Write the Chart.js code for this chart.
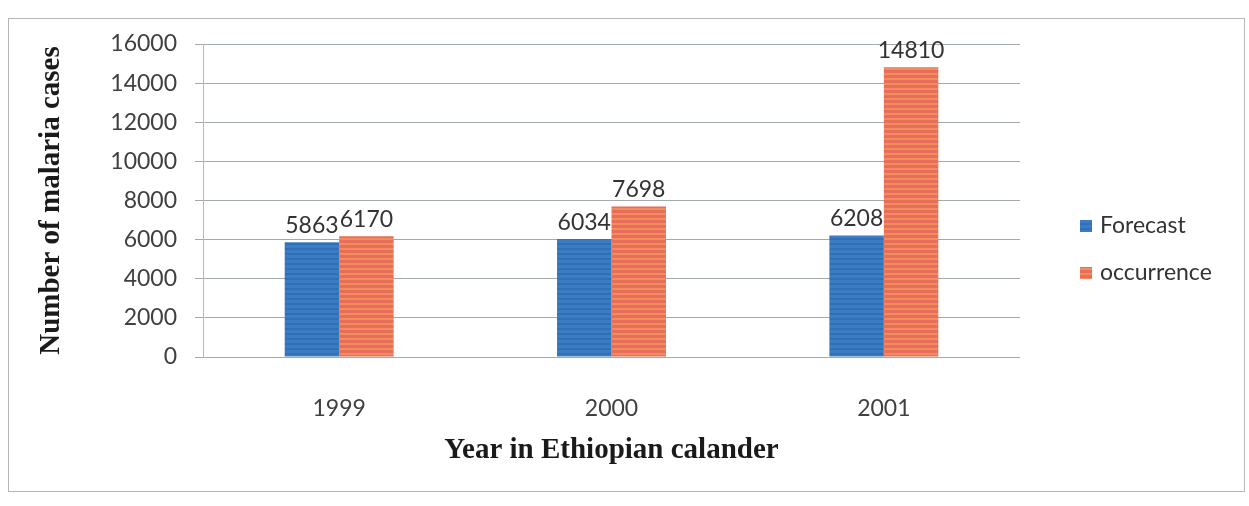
<!DOCTYPE html>
<html>
<head>
<meta charset="utf-8">
<script src="https://cdn.jsdelivr.net/npm/chart.js@4"></script>
<style>
  html, body { margin: 0; padding: 0; background: #fff; }
</style>
</head>
<body>
<canvas id="malariaChart" width="1249" height="506"></canvas>
<script>
const years = ['1999', '2000', '2001'];
const forecast = [5863, 6034, 6208];
const occurrence = [6170, 7698, 14810];
const yTicks = [0, 2000, 4000, 6000, 8000, 10000, 12000, 14000, 16000];

// horizontal banding like a printed bar fill
function stripes(base, band) {
  const c = document.createElement('canvas');
  c.width = 4; c.height = 5;
  const g = c.getContext('2d');
  g.fillStyle = base;
  g.fillRect(0, 0, 4, 5);
  g.fillStyle = band;
  g.fillRect(0, 3, 4, 2);
  return g.createPattern(c, 'repeat');
}

const blueFill = stripes('#3b7cc2', '#3170b6');
const orangeFill = stripes('#e86d5c', '#f08d5a');

const tickFont = { family: 'Lato', size: 23 };
const titleFont = { family: 'Liberation Serif', size: 29, weight: 'bold' };

// outer frame of the chart object
const frame = {
  id: 'frame',
  beforeDraw(chart) {
    const ctx = chart.ctx;
    ctx.save();
    ctx.strokeStyle = '#b4b8b8';
    ctx.lineWidth = 1;
    ctx.strokeRect(8.5, 18.5, 1236, 473);
    ctx.restore();
  }
};

// value printed above each bar
const valueLabels = {
  id: 'valueLabels',
  afterDatasetsDraw(chart) {
    const ctx = chart.ctx;
    ctx.save();
    ctx.font = '23px Lato';
    ctx.fillStyle = '#333';
    ctx.textAlign = 'center';
    ctx.textBaseline = 'bottom';
    chart.data.datasets.forEach((ds, i) => {
      chart.getDatasetMeta(i).data.forEach((bar, j) => {
        ctx.fillText(ds.data[j], bar.x, bar.y - 5);
      });
    });
    ctx.restore();
  }
};

// legend on the right side
const sideLegend = {
  id: 'sideLegend',
  afterDraw(chart) {
    const ctx = chart.ctx;
    const area = chart.chartArea;
    const x = area.right + 60;
    let y = area.bottom - 131;
    ctx.save();
    ctx.font = '23px Lato';
    ctx.textBaseline = 'middle';
    chart.data.datasets.forEach(ds => {
      ctx.fillStyle = ds.backgroundColor;
      ctx.fillRect(x, y - 6, 12, 12);
      ctx.fillStyle = '#333';
      ctx.fillText(ds.label, x + 20, y);
      y += 47;
    });
    ctx.restore();
  }
};

new Chart(document.getElementById('malariaChart'), {
  type: 'bar',
  data: {
    labels: years,
    datasets: [
      { label: 'Forecast', data: forecast, backgroundColor: blueFill },
      { label: 'occurrence', data: occurrence, backgroundColor: orangeFill }
    ]
  },
  options: {
    responsive: false,
    animation: false,
    categoryPercentage: 0.4,
    barPercentage: 1.0,
    layout: { padding: { left: 8, top: 44, right: 229, bottom: 0 } },
    plugins: {
      legend: { display: false },
      tooltip: { enabled: false }
    },
    scales: {
      x: {
        grid: { display: false },
        border: { display: false },
        ticks: { font: tickFont, color: '#404040', padding: 30 },
        title: {
          display: true,
          text: 'Year in Ethiopian calander',
          font: titleFont,
          color: '#1a1a1a',
          padding: { top: 4, bottom: 38 }
        },
        afterFit(scale) { scale.height = 149; }
      },
      y: {
        min: 0,
        max: 16000,
        afterBuildTicks(scale) { scale.ticks = yTicks.map(v => ({ value: v })); },
        grid: { color: '#a2aaaa', tickLength: 8, lineWidth: 1 },
        border: { color: '#b4bcbc' },
        ticks: {
          font: tickFont,
          color: '#404040',
          padding: 18,
          callback: v => String(v)
        },
        title: {
          display: true,
          text: 'Number of malaria cases',
          font: titleFont,
          color: '#1a1a1a',
          padding: { top: 26, bottom: 0 }
        },
        afterFit(scale) { scale.width = 195; }
      }
    }
  },
  plugins: [frame, valueLabels, sideLegend]
});
</script>
</body>
</html>
